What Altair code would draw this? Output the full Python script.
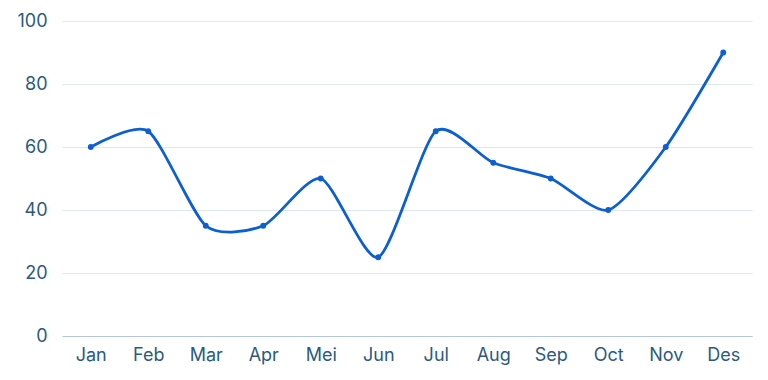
import altair as alt
import pandas as pd

months = ["Jan", "Feb", "Mar", "Apr", "Mei", "Jun", "Jul", "Aug", "Sep", "Oct", "Nov", "Des"]
values = [60, 65, 35, 35, 50, 25, 65, 55, 50, 40, 60, 90]

df = pd.DataFrame({"month": months, "value": values})

TEXT = "#2b5a80"
LINE = "#0b5fd1"
FONT = "Inter"

x = alt.X("month:N", sort=months, title=None,
          scale=alt.Scale(type="point", padding=0.5),
          axis=alt.Axis(labelAngle=0, labelFontSize=18, labelColor=TEXT, labelFont=FONT,
                        labelPadding=10, ticks=False, domainColor="#b3c7da", grid=False))
y = alt.Y("value:Q", title=None,
          scale=alt.Scale(domain=[0, 100]),
          axis=alt.Axis(values=[0, 20, 40, 60, 80, 100], labelFontSize=18, labelColor=TEXT,
                        labelFont=FONT, labelPadding=15, ticks=False, domain=False,
                        gridColor="#dfe7ef"))

line = alt.Chart(df).mark_line(interpolate="cardinal", tension=0.3, color=LINE, strokeWidth=2.8).encode(x=x, y=y)
pts = alt.Chart(df).mark_circle(color=LINE, size=34, opacity=1).encode(x=x, y=y)

chart = (line + pts).properties(
    width=690, height=315,
    autosize=alt.AutoSizeParams(type="none"),
    padding={"left": 54, "top": 13, "right": 8, "bottom": 36},
).configure_view(stroke=None)

chart.save("out.html", embed_options={"renderer": "svg", "actions": False})
